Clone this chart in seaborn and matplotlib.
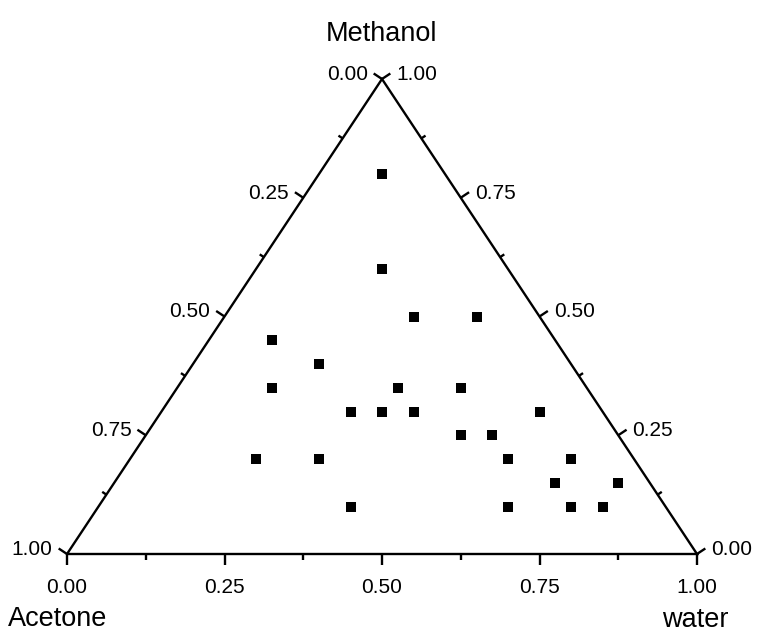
import numpy as np
import pandas as pd
import matplotlib
matplotlib.use("Agg")
import matplotlib.pyplot as plt
import seaborn as sns

# ---- data (mole fractions) ----
acetone = [0.10, 0.20, 0.20, 0.10, 0.45, 0.40, 0.50, 0.30, 0.20, 0.40, 0.35, 0.30, 0.10,
           0.25, 0.20, 0.60, 0.50, 0.20, 0.10, 0.15, 0.05, 0.50, 0.25, 0.15, 0.10]
water = [0.10, 0.20, 0.30, 0.40, 0.10, 0.20, 0.15, 0.35, 0.45, 0.30, 0.35, 0.40, 0.60,
         0.50, 0.55, 0.20, 0.30, 0.60, 0.70, 0.70, 0.80, 0.40, 0.65, 0.75, 0.80]
methanol = [0.80, 0.60, 0.50, 0.50, 0.45, 0.40, 0.35, 0.35, 0.35, 0.30, 0.30, 0.30, 0.30,
            0.25, 0.25, 0.20, 0.20, 0.20, 0.20, 0.15, 0.15, 0.10, 0.10, 0.10, 0.10]
major_ticks = [0.00, 0.25, 0.50, 0.75, 1.00]
minor_ticks = [0.125, 0.375, 0.625, 0.875]
tick_labels = ["0.00", "0.25", "0.50", "0.75", "1.00"]

df = pd.DataFrame({"acetone": acetone, "water": water, "methanol": methanol})
df["x"] = df["water"] + df["methanol"] / 2.0
df["y"] = df["methanol"]

sns.set_style("white")
plt.rcParams["font.family"] = ["Liberation Sans", "DejaVu Sans"]
plt.rcParams["text.color"] = "black"

FW, FH = 759, 634
fig = plt.figure(figsize=(FW / 100, FH / 100), dpi=100)
L, B, W, H = 67, 554, 630, 475   # triangle box in pixels (left, bottom-y, width, height)
ax = fig.add_axes([L / FW, (FH - B) / FH, W / FW, H / FH])
ax.set_xlim(0, 1)
ax.set_ylim(0, 1)
ax.axis("off")

lw = 1.7
ax.plot([0, 1, 0.5, 0], [0, 0, 1, 0], color="black", lw=lw, clip_on=False,
        solid_joinstyle="miter")

sns.scatterplot(data=df, x="x", y="y", marker="s", s=54, color="black",
                linewidth=0, ax=ax, clip_on=False)

# edge normals in pixel space (y up)
norm = np.hypot(W / 2, H)
nl = (-H / norm, (W / 2) / norm)
nr = (H / norm, (W / 2) / norm)
nb = (0.0, -1.0)

def tick(x, y, n, length):
    ax.plot([x, x + length * n[0] / W], [y, y + length * n[1] / H],
            color="black", lw=lw, clip_on=False, solid_capstyle="butt")

PT = 0.72  # points per pixel
fs_tick = 15
for v, lab in zip(major_ticks, tick_labels):
    # left axis: Acetone fraction (1 at bottom-left, 0 at top)
    m = 1 - v
    x, y = m / 2, m
    tick(x, y, nl, 10)
    ax.annotate(lab, xy=(x, y), xytext=((10 * nl[0] - 6) * PT, (10 * nl[1] - 1) * PT),
                textcoords="offset points", ha="right", va="center", fontsize=fs_tick,
                color="black", annotation_clip=False)
    # right axis: Methanol fraction (1 at top, 0 at bottom-right)
    x, y = 1 - v / 2, v
    tick(x, y, nr, 10)
    ax.annotate(lab, xy=(x, y), xytext=((10 * nr[0] + 6) * PT, (10 * nr[1] - 1) * PT),
                textcoords="offset points", ha="left", va="center", fontsize=fs_tick,
                color="black", annotation_clip=False)
    # bottom axis: water fraction
    tick(v, 0, nb, 11)
    ax.annotate(lab, xy=(v, 0), xytext=(0, -39 * PT), textcoords="offset points",
                ha="center", va="baseline", fontsize=fs_tick, color="black",
                annotation_clip=False)

for v in minor_ticks:
    m = 1 - v
    tick(m / 2, m, nl, 5)
    tick(1 - v / 2, v, nr, 5)
    tick(v, 0, nb, 6)

fs_title = 19.5
fig.text(381 / FW, 1 - 34 / FH, "Methanol", ha="center", va="center", fontsize=fs_title,
         color="black")
fig.text(58 / FW, 1 - 619 / FH, "Acetone", ha="center", va="center", fontsize=fs_title,
         color="black")
fig.text(695 / FW, 1 - 620 / FH, "water", ha="center", va="center", fontsize=fs_title,
         color="black")

fig.savefig("out.png", dpi=100, facecolor="white")
